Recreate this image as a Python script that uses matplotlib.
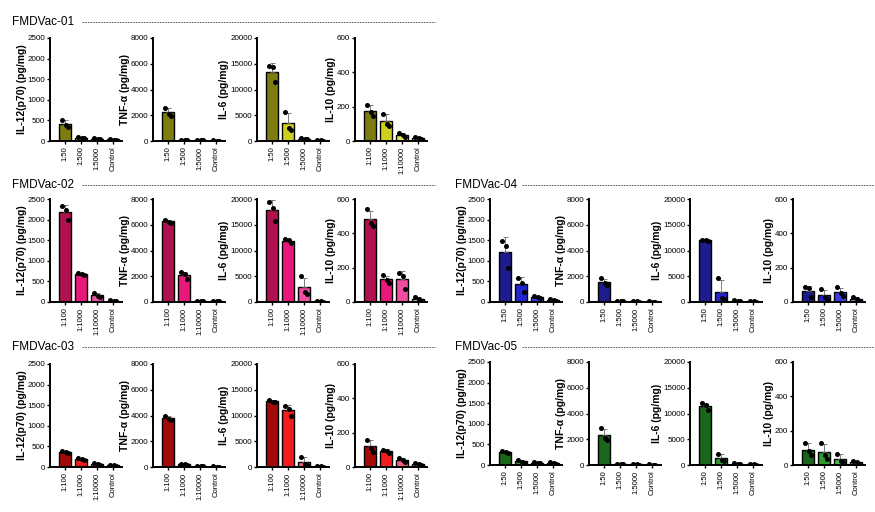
import matplotlib
matplotlib.use("Agg")
import matplotlib.pyplot as plt
import numpy as np

plt.rcParams['font.family'] = ['Liberation Sans', 'DejaVu Sans']

# ---------------- data (replicate values, pg/mg) ----------------
labels_a = ["1:50", "1:500", "1:5000", "Control"]
labels_b = ["1:100", "1:1000", "1:10000", "Control"]

cytokines = ["IL-12(p70) (pg/mg)", "TNF-α (pg/mg)", "IL-6 (pg/mg)", "IL-10 (pg/mg)"]
ymax = [2500, 8000, 20000, 600]
ystep = [500, 2000, 5000, 200]

vac01_il12 = [[520, 390, 330], [100, 75, 65], [70, 60, 50], [50, 35, 25]]
vac01_tnf = [[2600, 2100, 1950], [100, 80, 60], [60, 50, 40], [40, 30, 20]]
vac01_il6 = [[14500, 14300, 11400], [5700, 2600, 2200], [500, 400, 300], [150, 100, 50]]
vac01_il10 = [[210, 170, 145], [160, 100, 90], [45, 35, 25], [25, 15, 10]]

vac02_il12 = [[2320, 2230, 1990], [710, 680, 660], [220, 150, 120], [50, 30, 20]]
vac02_tnf = [[6400, 6250, 6150], [2300, 2150, 1750], [100, 80, 60], [60, 50, 40]]
vac02_il6 = [[19500, 18200, 15700], [12200, 12100, 11500], [5000, 2000, 1500], [150, 100, 50]]
vac02_il10 = [[540, 460, 445], [155, 130, 110], [170, 150, 75], [30, 15, 5]]

vac03_il12 = [[390, 370, 350], [225, 200, 175], [85, 70, 50], [55, 40, 25]]
vac03_tnf = [[4000, 3750, 3650], [250, 200, 150], [60, 50, 40], [40, 30, 20]]
vac03_il6 = [[13000, 12700, 12600], [11800, 11300, 9900], [2000, 500, 300], [150, 100, 50]]
vac03_il10 = [[160, 110, 90], [100, 95, 80], [50, 40, 30], [25, 15, 10]]

vac04_il12 = [[1480, 1360, 820], [590, 450, 250], [140, 120, 100], [70, 50, 35]]
vac04_tnf = [[1850, 1500, 1350], [60, 50, 40], [50, 40, 30], [40, 30, 20]]
vac04_il6 = [[12100, 12000, 11900], [4700, 800, 500], [300, 200, 150], [150, 100, 50]]
vac04_il10 = [[85, 80, 30], [75, 30, 15], [85, 50, 35], [30, 15, 5]]

vac05_il12 = [[350, 320, 290], [130, 80, 60], [75, 60, 45], [65, 50, 35]]
vac05_tnf = [[2850, 2100, 1950], [60, 50, 40], [50, 40, 30], [40, 30, 20]]
vac05_il6 = [[12000, 11600, 10600], [2200, 1000, 700], [300, 250, 200], [150, 100, 50]]
vac05_il10 = [[130, 80, 60], [130, 60, 35], [65, 25, 15], [25, 15, 5]]

vaccines = ["FMDVac-01", "FMDVac-02", "FMDVac-03", "FMDVac-04", "FMDVac-05"]
vac_data = [
    [vac01_il12, vac01_tnf, vac01_il6, vac01_il10],
    [vac02_il12, vac02_tnf, vac02_il6, vac02_il10],
    [vac03_il12, vac03_tnf, vac03_il6, vac03_il10],
    [vac04_il12, vac04_tnf, vac04_il6, vac04_il10],
    [vac05_il12, vac05_tnf, vac05_il6, vac05_il10],
]
vac_labels = [
    [labels_a, labels_a, labels_a, labels_b],
    [labels_b] * 4,
    [labels_b] * 4,
    [labels_a] * 4,
    [labels_a] * 4,
]
vac_colors = [
    ['#7d7d0f', '#cfcf1e', '#e3e35a', '#f4f4b0'],
    ['#b0124f', '#e8197a', '#f04ea0', '#f8b8d8'],
    ['#a30b0b', '#f21d1d', '#f0607a', '#f8c0c0'],
    ['#1c1c8c', '#2424cc', '#3c3ce6', '#a0a0f0'],
    ['#1a661a', '#2f9a2f', '#46b846', '#a0e0a0'],
]

# ---------------- layout (pixels) ----------------
W, H = 875, 512
fig = plt.figure(figsize=(W / 100, H / 100), dpi=100)

ax_w, ax_h = 72, 103
left_cols = [50, 153, 257, 355]
right_cols = [490, 589, 690, 793]
# (column lefts, top pixel, title x, title y, dash start, dash end)
blocks = [
    (left_cols, 38, 12, 22, 82, 435),
    (left_cols, 199, 12, 185, 82, 435),
    (left_cols, 364, 12, 347, 82, 435),
    (right_cols, 199, 455, 185, 522, 873),
    (right_cols, 362, 455, 347, 522, 873),
]

offsets = [-0.17, 0.03, 0.17]

for vi, (cols, top, tx, ty, d0, d1) in enumerate(blocks):
    fig.text(tx / W, 1 - ty / H, vaccines[vi], fontsize=8.5, va='center', ha='left')
    fig.add_artist(plt.Line2D([d0 / W, d1 / W], [1 - ty / H, 1 - ty / H],
                              transform=fig.transFigure, color='#444444',
                              lw=0.6, ls=(0, (2, 1.2))))
    for ci in range(4):
        x0 = cols[ci]
        ax = fig.add_axes([x0 / W, 1 - (top + ax_h) / H, ax_w / W, ax_h / H])
        reps = np.array(vac_data[vi][ci], dtype=float)
        means = reps.mean(axis=1)
        sds = reps.std(axis=1, ddof=1)
        xs = np.arange(4)
        ax.bar(xs, means, width=0.72, color=vac_colors[vi], edgecolor='black',
               linewidth=1.0, zorder=2)
        ax.errorbar(xs, means, yerr=[np.zeros(4), sds], fmt='none',
                    ecolor='#666666', elinewidth=0.6, capsize=1.8, capthick=0.6,
                    zorder=3)
        for k in range(4):
            ax.scatter(xs[k] + np.array(offsets), reps[k], s=13, color='black',
                       zorder=4, linewidths=0)
        ax.set_xlim(-0.95, 3.55)
        ax.set_ylim(0, ymax[ci])
        ax.set_yticks(np.arange(0, ymax[ci] + 1, ystep[ci]))
        ax.set_xticks(xs)
        ax.set_xticklabels(vac_labels[vi][ci], rotation=90, fontsize=5.5)
        ax.tick_params(axis='y', labelsize=5.8, width=1.0, length=2.5, pad=1)
        ax.tick_params(axis='x', width=1.0, length=2.5, pad=1.5)
        for s in ['top', 'right']:
            ax.spines[s].set_visible(False)
        for s in ['left', 'bottom']:
            ax.spines[s].set_linewidth(1.4)
        ax.set_ylabel(cytokines[ci], fontsize=7.5, fontweight='bold', labelpad=0.5)
        ax.patch.set_alpha(0)

fig.savefig("out.png", dpi=100)
